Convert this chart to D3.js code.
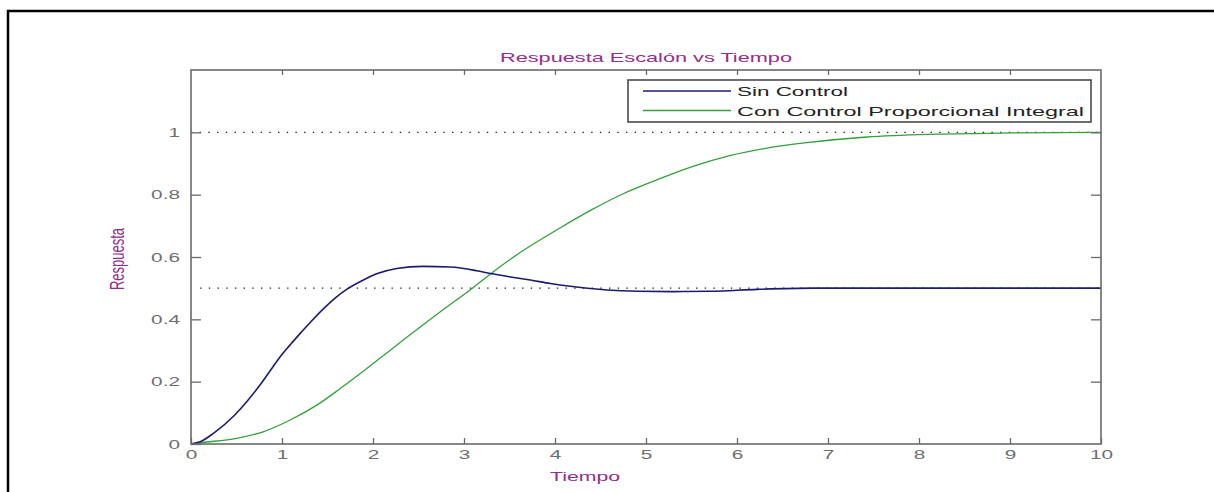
<!DOCTYPE html>
<html>
<head>
<meta charset="utf-8">
<script src="https://cdn.jsdelivr.net/npm/d3@7"></script>
<style>
  body { margin: 0; background: #fff; }
  text { font-family: "Liberation Sans", Arial, sans-serif; }
</style>
</head>
<body>
<svg id="chart" width="1214" height="492"></svg>
<script>
// values
const sinT = [0, 0.1, 0.25, 0.47, 0.61, 0.76, 0.87, 0.98, 1.09, 1.2, 1.31, 1.46, 1.6, 1.71, 1.9, 2.04, 2.26, 2.55, 2.85, 3.14, 3.29, 3.51, 3.73, 3.95, 4.17, 4.57, 4.9, 5.3, 5.71, 6.22, 6.84, 7.5, 8.5, 10];
const sinY = [0, 0.007, 0.035, 0.09, 0.135, 0.19, 0.235, 0.28, 0.318, 0.355, 0.39, 0.435, 0.472, 0.496, 0.527, 0.546, 0.563, 0.57, 0.568, 0.556, 0.547, 0.536, 0.526, 0.515, 0.506, 0.494, 0.49, 0.489, 0.49, 0.496, 0.5, 0.5, 0.5, 0.5];

const conT = [0, 0.1, 0.5, 0.8, 1.09, 1.4, 1.64, 1.9, 2.19, 2.45, 2.74, 3.11, 3.32, 3.62, 4.06, 4.4, 4.72, 5.16, 5.5, 5.93, 6.3, 6.74, 7.43, 8.2, 9, 10];
const conY = [0, 0.004, 0.018, 0.04, 0.077, 0.128, 0.178, 0.235, 0.301, 0.36, 0.424, 0.504, 0.552, 0.615, 0.694, 0.751, 0.799, 0.852, 0.889, 0.926, 0.948, 0.966, 0.985, 0.994, 0.998, 1.0];

const refLevels = [1, 0.5];
const refStart = [0, 0.1];

const xTicks = [0, 1, 2, 3, 4, 5, 6, 7, 8, 9, 10];
const yTicks = [0, 0.2, 0.4, 0.6, 0.8, 1];

const seriesNames = ["Sin Control", "Con Control Proporcional Integral"];
const seriesColors = ["#1c1c6e", "#33a03a"];

const titleText = "Respuesta Escalón vs Tiempo";
const xLabelText = "Tiempo";
const yLabelText = "Respuesta";

const svg = d3.select("#chart");
const purple = "#952d8e";
const axisGrey = "#6a6a6a";
const labelGrey = "#6e6e6e";
const SX = 1.6; // the picture is stretched sideways

// outer frame (only top and left are inside the picture)
svg.append("path")
  .attr("d", "M8,520 V11 H1240")
  .attr("fill", "none")
  .attr("stroke", "#000")
  .attr("stroke-width", 2.5);

const plotLeft = 191, plotRight = 1101, plotTop = 70, plotBottom = 444;

const x = d3.scaleLinear().domain([0, 10]).range([plotLeft, plotRight]);
const y = d3.scaleLinear().domain([0, 1.2]).range([plotBottom, plotTop]);

// reference dotted lines
refLevels.forEach((lvl, i) => {
  svg.append("line")
    .attr("x1", x(refStart[i]))
    .attr("x2", x(10))
    .attr("y1", y(lvl))
    .attr("y2", y(lvl))
    .attr("stroke", "#222")
    .attr("stroke-width", 1.2)
    .attr("stroke-dasharray", "1.4,7.3");
});

const line = d3.line()
  .x((d) => x(d[0]))
  .y((d) => y(d[1]))
  .curve(d3.curveMonotoneX);

svg.append("path")
  .datum(conT.map((t, i) => [t, conY[i]]))
  .attr("d", line)
  .attr("fill", "none")
  .attr("stroke", seriesColors[1])
  .attr("stroke-width", 1.3);

svg.append("path")
  .datum(sinT.map((t, i) => [t, sinY[i]]))
  .attr("d", line)
  .attr("fill", "none")
  .attr("stroke", seriesColors[0])
  .attr("stroke-width", 1.6);

// axes, ticks pointing inside
const styleAxis = (g) => {
  g.select(".domain").remove();
  g.selectAll(".tick line").attr("stroke", axisGrey).attr("stroke-width", 1.3);
  g.selectAll("text")
    .attr("fill", labelGrey)
    .style("font-size", "13px")
    .style("font-family", "\"Liberation Sans\", Arial, sans-serif");
};

svg.append("g")
  .attr("transform", `translate(0,${plotBottom})`)
  .call(d3.axisBottom(x).tickValues(xTicks).tickSizeInner(-6).tickSizeOuter(0).tickPadding(6).tickFormat(d3.format("d")))
  .call(styleAxis)
  .call((g) => g.selectAll("text").attr("transform", `scale(${SX},1)`));

svg.append("g")
  .attr("transform", `translate(0,${plotTop})`)
  .call(d3.axisTop(x).tickValues(xTicks.slice(1, -1)).tickSizeInner(-5).tickSizeOuter(0).tickFormat(""))
  .call(styleAxis);

svg.append("g")
  .attr("transform", `translate(${plotLeft},0)`)
  .call(d3.axisLeft(y).tickValues(yTicks).tickSizeInner(-10).tickSizeOuter(0).tickPadding(11 / SX).tickFormat(d3.format("~g")))
  .call(styleAxis)
  .call((g) => g.selectAll("text").attr("transform", `scale(${SX},1)`));

svg.append("g")
  .attr("transform", `translate(${plotRight},0)`)
  .call(d3.axisRight(y).tickValues(yTicks.slice(1)).tickSizeInner(-10).tickSizeOuter(0).tickFormat(""))
  .call(styleAxis);

// plot box
svg.append("rect")
  .attr("x", plotLeft)
  .attr("y", plotTop)
  .attr("width", plotRight - plotLeft)
  .attr("height", plotBottom - plotTop)
  .attr("fill", "none")
  .attr("stroke", axisGrey)
  .attr("stroke-width", 1.6);

// title and axis labels
svg.append("text")
  .attr("x", (plotLeft + plotRight) / 2)
  .attr("y", 62)
  .attr("text-anchor", "middle")
  .attr("fill", purple)
  .style("font-size", "13px")
  .attr("textLength", 292)
  .attr("lengthAdjust", "spacingAndGlyphs")
  .text(titleText);

svg.append("text")
  .attr("x", 585)
  .attr("y", 481)
  .attr("text-anchor", "middle")
  .attr("fill", purple)
  .style("font-size", "13px")
  .attr("textLength", 70)
  .attr("lengthAdjust", "spacingAndGlyphs")
  .text(xLabelText);

svg.append("text")
  .attr("transform", `translate(124,259) scale(${SX},1) rotate(-90)`)
  .attr("text-anchor", "middle")
  .attr("fill", purple)
  .style("font-size", "13px")
  .text(yLabelText);

// legend
const legend = svg.append("g");
legend.append("rect")
  .attr("x", 628)
  .attr("y", 80)
  .attr("width", 463)
  .attr("height", 42)
  .attr("fill", "#fff")
  .attr("stroke", "#4a4a4a")
  .attr("stroke-width", 1.6);

const legendRowY = [91, 110.5];
const legendTextLen = [111, 347];
seriesNames.forEach((name, i) => {
  legend.append("line")
    .attr("x1", 643)
    .attr("x2", 731)
    .attr("y1", legendRowY[i])
    .attr("y2", legendRowY[i])
    .attr("stroke", seriesColors[i])
    .attr("stroke-width", 1.3);
  legend.append("text")
    .attr("x", 737)
    .attr("y", legendRowY[i] + 5)
    .attr("fill", "#222")
    .style("font-size", "13.5px")
    .attr("textLength", legendTextLen[i])
    .attr("lengthAdjust", "spacingAndGlyphs")
    .text(name);
});
</script>
</body>
</html>
